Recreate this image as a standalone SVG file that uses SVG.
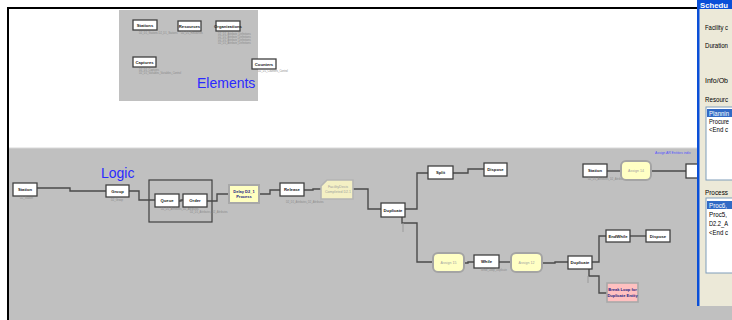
<svg xmlns="http://www.w3.org/2000/svg" width="732" height="320" viewBox="0 0 732 320">
  <style>
    .box { fill: #ffffff; stroke: #404040; stroke-width: 1.3; }
    .lbl { font-family: "Liberation Sans", Arial, sans-serif; font-size: 4.2px; font-weight: bold; fill: #202020; text-anchor: middle; }
    .note { font-family: "Liberation Sans", Arial, sans-serif; font-size: 2.6px; fill: #8a8a8a; }
    .assign { fill: #ffffc4; stroke: #a4a4a4; stroke-width: 2; }
    .alb { font-family: "Liberation Sans", Arial, sans-serif; font-size: 3.6px; fill: #a0a0a0; text-anchor: middle; }
    .nav { font-family: "Liberation Sans", Arial, sans-serif; font-size: 4px; font-weight: bold; fill: #202080; text-anchor: middle; }
    .title { font-family: "Liberation Sans", Arial, sans-serif; font-size: 14px; fill: #2a2aff; }
    .conn { fill: none; stroke: #4a4a4a; stroke-width: 1.4; }
    .dlg { font-family: "Liberation Sans", Arial, sans-serif; font-size: 8px; fill: #000000; }
  </style>

  <!-- canvas -->
  <rect x="0" y="0" width="732" height="320" fill="#ffffff"/>
  <rect x="9" y="148" width="688" height="172" fill="#c0c0c0"/>
  <line x1="9" y1="148" x2="697" y2="148" stroke="#d8d8d8" stroke-width="1"/>
  <path d="M8,320 V8 H697" fill="none" stroke="#000000" stroke-width="2"/>

  <!-- elements area -->
  <g id="elements">
    <rect x="119" y="10" width="139" height="91" fill="#c0c0c0"/>
    <text class="title" x="197" y="88">Elements</text>
  </g>
  <g id="el-stations">
    <rect class="box" x="133" y="20" width="24" height="10"/>
    <text class="lbl" x="145" y="26.5">Stations</text>
    <text class="note" x="139" y="33.5">D2_D1_Stations D2_D1_Stations</text>
  </g>
  <g id="el-resources">
    <rect class="box" x="178" y="21" width="23" height="10"/>
    <text class="lbl" x="189.5" y="27.5">Resources</text>
    <text class="note" x="181" y="34">D2_D1_Resources</text>
  </g>
  <g id="el-organizations">
    <rect class="box" x="216" y="21" width="24" height="10"/>
    <text class="lbl" x="228" y="27.5">Organizations</text>
    <text class="note" x="218" y="35">D2_D1_Attribute_Definitions</text>
    <text class="note" x="218" y="38">D2_D1_Attribute_Definitions</text>
    <text class="note" x="218" y="41">D2_D1_Attribute_Definitions</text>
    <text class="note" x="218" y="44">D2_D1_Attribute_Definitions</text>
  </g>
  <g id="el-captures">
    <rect class="box" x="133" y="57" width="23" height="10"/>
    <text class="lbl" x="144.5" y="63.5">Captures</text>
    <text class="note" x="139" y="70.5">D2_D1_Captures</text>
    <text class="note" x="139" y="73.5">D2_D1_Variables_Variables_Control</text>
  </g>
  <g id="el-counters">
    <rect class="box" x="252" y="59" width="24" height="10"/>
    <text class="lbl" x="264" y="65.5">Counters</text>
    <text class="note" x="258" y="72">D2_D1_Counters_Control</text>
  </g>

  <!-- logic area -->
  <text class="title" x="101" y="178">Logic</text>
  <rect x="149" y="180" width="63" height="42" fill="none" stroke="#404040" stroke-width="1.2"/>
  <text class="note" x="655" y="154" style="fill:#5050ff;font-size:3.4px">Assign AR Entities indiv</text>

  <g id="connectors">
    <path class="conn" d="M37,188 H70 V191 H106"/>
    <path class="conn" d="M129,191 H139 V200 H155"/>
    <path class="conn" d="M179,201 H181 V200 H183"/>
    <path class="conn" d="M207,201 H217 V194 H229"/>
    <path class="conn" d="M259,194 H270 V190 H280"/>
    <path class="conn" d="M304,190 H313 V189 H321"/>
    <path class="conn" d="M353,189 H368 V209 H381"/>
    <path class="conn" d="M405,209 H417 V173 H428"/>
    <path class="conn" d="M453,173 H468 V169 H484"/>
    <path class="conn" d="M402,217 V223 H417 V262 H433"/>
    <path class="conn" d="M464,263 H468 V262 H474"/>
    <path class="conn" d="M499,262 H511"/>
    <path class="conn" d="M542,263 H555 V262 H568"/>
    <path class="conn" d="M592,262 H599 V236 H606"/>
    <path class="conn" d="M630,236 H646"/>
    <path class="conn" d="M589,269 V276 H599 V293 H607"/>
    <path class="conn" d="M607,171 H621"/>
    <path class="conn" d="M651,171 H686"/>
    <path d="M403,223 V232" fill="none" stroke="#9a9a9a" stroke-width="1"/>
    <path d="M588,276 V283" fill="none" stroke="#9a9a9a" stroke-width="1"/>
  </g>

  <g id="station">
    <rect class="box" x="13" y="183" width="24" height="13"/>
    <text class="lbl" x="25" y="191">Station</text>
    <text class="note" x="20" y="199">D2_Station</text>
  </g>
  <g id="group">
    <rect class="box" x="106" y="185" width="23" height="12"/>
    <text class="lbl" x="117.5" y="192.5">Group</text>
    <text class="note" x="111" y="201">D2_Group</text>
  </g>
  <g id="queue">
    <rect class="box" x="155" y="194" width="24" height="13"/>
    <text class="lbl" x="167" y="202">Queue</text>
    <text class="note" x="161" y="210">D2_D1_Attributes_D2_Attributes</text>
  </g>
  <g id="order">
    <rect class="box" x="183" y="194" width="24" height="13"/>
    <text class="lbl" x="195" y="202">Order</text>
    <text class="note" x="190" y="213">D2_D1_Attributes_D2_Attributes</text>
  </g>
  <g id="delay">
    <rect x="229" y="185" width="30" height="18" fill="#ffffc0" stroke="#a8a8a8" stroke-width="2"/>
    <text class="nav" x="244" y="192.5">Delay D2_1</text>
    <text class="nav" x="244" y="198">Process</text>
  </g>
  <g id="release">
    <rect class="box" x="280" y="183" width="24" height="13"/>
    <text class="lbl" x="292" y="191">Release</text>
    <text class="note" x="286" y="203">D2_D1_Attributes_D2_Attributes</text>
  </g>
  <g id="decision">
    <path d="M327,180 H353 V199 H321 V186 Z" fill="#f4f0c4" stroke="#b4b4b4" stroke-width="1.6"/>
    <text class="alb" x="338" y="188">FacilityDecis</text>
    <text class="alb" x="338" y="193">Completed D2.1</text>
  </g>
  <g id="duplicate">
    <rect class="box" x="381" y="203" width="24" height="14"/>
    <text class="lbl" x="393" y="211.5">Duplicate</text>
  </g>
  <g id="split">
    <rect class="box" x="428" y="166" width="25" height="13"/>
    <text class="lbl" x="440.5" y="174">Split</text>
  </g>
  <g id="dispose">
    <rect class="box" x="484" y="163" width="23" height="13"/>
    <text class="lbl" x="495.5" y="171">Dispose</text>
  </g>
  <g id="station2">
    <rect class="box" x="583" y="164" width="24" height="13"/>
    <text class="lbl" x="595" y="172">Station</text>
    <text class="note" x="588" y="180">D2_D1_Attributes_D2_Attributes</text>
  </g>
  <g id="assign14">
    <rect class="assign" x="621" y="161" width="30" height="19" rx="5"/>
    <text class="alb" x="636" y="172">Assign 14</text>
  </g>
  <g id="next-box">
    <rect class="box" x="686" y="164" width="14" height="14"/>
  </g>
  <g id="assign15">
    <rect class="assign" x="433" y="253" width="31" height="19" rx="5"/>
    <text class="alb" x="448.5" y="264">Assign 15</text>
  </g>
  <g id="while">
    <rect class="box" x="474" y="255" width="25" height="13"/>
    <text class="lbl" x="486.5" y="263">While</text>
    <text class="note" x="481" y="271">While_Loop_Duplicate</text>
  </g>
  <g id="assign12">
    <rect class="assign" x="511" y="253" width="31" height="19" rx="5"/>
    <text class="alb" x="526.5" y="264">Assign 12</text>
  </g>
  <g id="duplicate2">
    <rect class="box" x="568" y="256" width="24" height="13"/>
    <text class="lbl" x="580" y="264">Duplicate</text>
  </g>
  <g id="endwhile">
    <rect class="box" x="606" y="230" width="24" height="12"/>
    <text class="lbl" x="618" y="237.5">EndWhile</text>
  </g>
  <g id="dispose2">
    <rect class="box" x="646" y="230" width="24" height="12"/>
    <text class="lbl" x="658" y="237.5">Dispose</text>
  </g>
  <g id="break-loop">
    <rect x="607" y="283" width="31" height="19" fill="#ffc0c0" stroke="#a8a8a8" stroke-width="1.6"/>
    <text class="nav" x="622.5" y="291">Break Loop for</text>
    <text class="nav" x="622.5" y="296.5">Duplicate Entity</text>
  </g>

  <!-- side dialog, partly off the right edge -->
  <g id="dialog">
    <rect x="697" y="303" width="35" height="17" fill="#c0c0c0"/>
    <rect x="697" y="0" width="35" height="306" fill="#ece9d8"/>
    <rect x="697" y="0" width="35" height="9" fill="#0a4fd8"/>
    <rect x="697" y="0" width="2.5" height="306" fill="#0a4fd8"/>
    <text x="700" y="7.5" font-family="Liberation Sans, Arial, sans-serif" font-size="7.5" font-weight="bold" fill="#ffffff" textLength="28" lengthAdjust="spacingAndGlyphs">Schedu</text>
    <text class="dlg" x="705" y="30" textLength="23" lengthAdjust="spacingAndGlyphs">Facility c</text>
    <text class="dlg" x="705" y="48" textLength="23" lengthAdjust="spacingAndGlyphs">Duration</text>
    <text class="dlg" x="705" y="83" textLength="23" lengthAdjust="spacingAndGlyphs">Info/Ob</text>
    <text class="dlg" x="705" y="102" textLength="23" lengthAdjust="spacingAndGlyphs">Resourc</text>
    <rect x="706" y="107" width="30" height="73" fill="#ffffff" stroke="#7f9db9" stroke-width="1"/>
    <rect x="707" y="109" width="26" height="8" fill="#316ac5"/>
    <text class="dlg" x="709" y="116" style="fill:#ffffff" textLength="20" lengthAdjust="spacingAndGlyphs">Plannin</text>
    <text class="dlg" x="709" y="124" textLength="20" lengthAdjust="spacingAndGlyphs">Procure</text>
    <text class="dlg" x="709" y="132" textLength="19" lengthAdjust="spacingAndGlyphs">&lt;End c</text>
    <text class="dlg" x="705" y="195" textLength="23" lengthAdjust="spacingAndGlyphs">Process</text>
    <rect x="706" y="198" width="30" height="75" fill="#ffffff" stroke="#7f9db9" stroke-width="1"/>
    <rect x="707" y="201" width="26" height="8" fill="#316ac5"/>
    <text class="dlg" x="709" y="208" style="fill:#ffffff" textLength="18" lengthAdjust="spacingAndGlyphs">Proc6,</text>
    <text class="dlg" x="709" y="217" textLength="18" lengthAdjust="spacingAndGlyphs">Proc5,</text>
    <text class="dlg" x="709" y="226" textLength="19" lengthAdjust="spacingAndGlyphs">D2.2_A</text>
    <text class="dlg" x="709" y="235" textLength="19" lengthAdjust="spacingAndGlyphs">&lt;End c</text>
  </g>
</svg>
